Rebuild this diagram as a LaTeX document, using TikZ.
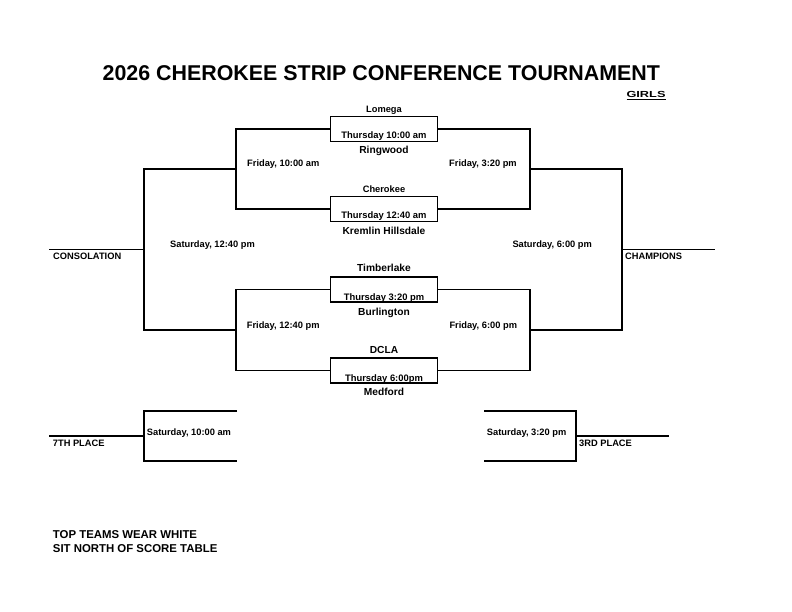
\documentclass[tikz,border=0pt]{standalone}
\usepackage{fontspec}
\setmainfont{Liberation Sans}
\usetikzlibrary{positioning}

\tikzset{
	bline/.style={line width=1.1pt},
	gamebox/.style={draw, line width=1.1pt, minimum width=107.5pt, minimum height=25pt, inner sep=0pt},
	team/.style={font=\bfseries\fontsize{10.2}{12}\selectfont, inner sep=0pt, anchor=base},
	smallteam/.style={team, font=\bfseries\fontsize{9.3}{11}\selectfont},
	slot/.style={font=\bfseries\fontsize{9.4}{11}\selectfont, inner sep=0pt, anchor=base},
	lbl/.style={font=\bfseries\fontsize{9.3}{11}\selectfont, inner sep=0pt, anchor=base west},
	note/.style={font=\bfseries\fontsize{11.4}{13}\selectfont, inner sep=0pt, anchor=base west},
}

\begin{document}
\begin{tikzpicture}[x=1pt, y=-1pt]
	\useasboundingbox (0,0) rectangle (792,612);
	
	% 标题
	\node[font=\bfseries\fontsize{21.4}{24}\selectfont, inner sep=0pt, anchor=base west] (title) at (102.5,81) {2026 CHEROKEE STRIP CONFERENCE TOURNAMENT};
	\node[font=\bfseries\fontsize{8.8}{10}\selectfont, inner sep=0pt, anchor=base east] (girls) at (665.7,97.3) {\underline{\scalebox{1.45}[1]{GIRLS}}};
	
	% 第一轮 (Thursday)
	\node[gamebox] (g1) at (384,129) {};
	\node[gamebox] (g2) at (384,209) {};
	\node[gamebox] (g3) at (384,289.5) {};
	\node[gamebox] (g4) at (384,370.5) {};
	
	\node[smallteam] (lomega) at ([yshift=3pt]g1.north) {Lomega};
	\node[slot] (s1) at ([yshift=3.5pt]g1.south) {Thursday 10:00 am};
	\node[team] (ringwood) at ([yshift=-11.5pt]g1.south) {Ringwood};
	
	\node[smallteam] (cherokee) at ([yshift=3pt]g2.north) {Cherokee};
	\node[slot] (s2) at ([yshift=3.5pt]g2.south) {Thursday 12:40 am};
	\node[team] (kremlin) at ([yshift=-12.5pt]g2.south) {Kremlin Hillsdale};
	
	\node[team] (timberlake) at ([yshift=4.5pt]g3.north) {Timberlake};
	\node[slot] (s3) at ([yshift=2pt]g3.south) {Thursday 3:20 pm};
	\node[team] (burlington) at ([yshift=-13pt]g3.south) {Burlington};
	
	\node[team] (dcla) at ([yshift=4pt]g4.north) {DCLA};
	\node[slot] (s4) at ([yshift=2.3pt]g4.south) {Thursday 6:00pm};
	\node[team] (medford) at ([yshift=-12pt]g4.south) {Medford};
	
	% 第二轮 (Friday)
	\coordinate (f1w) at (236,169);
	\coordinate (f1e) at (530,169);
	\coordinate (f2w) at (236,330);
	\coordinate (f2e) at (530,330);
	\draw[bline] (g1.west) -| (f1w) |- (g2.west);
	\draw[bline] (g1.east) -| (f1e) |- (g2.east);
	\draw[bline] (g3.west) -| (f2w) |- (g4.west);
	\draw[bline] (g3.east) -| (f2e) |- (g4.east);
	
	\node[lbl] (fri1) at (247,166.7) {Friday, 10:00 am};
	\node[lbl] (fri2) at (449,166.7) {Friday, 3:20 pm};
	\node[lbl] (fri3) at (246.7,328.3) {Friday, 12:40 pm};
	\node[lbl] (fri4) at (449.3,328.3) {Friday, 6:00 pm};
	
	% 决赛与安慰赛 (Saturday)
	\coordinate (cons) at (144,249.5);
	\coordinate (champ) at (622,249.5);
	\coordinate (consend) at (49,249.5);
	\coordinate (champend) at (715,249.5);
	\draw[bline] (f1w) -| (cons) |- (f2w);
	\draw[bline] (f1e) -| (champ) |- (f2e);
	\draw[bline] (cons) -- (consend);
	\draw[bline] (champ) -- (champend);
	
	\node[lbl] (sat1) at (170,247.3) {Saturday, 12:40 pm};
	\node[lbl] (sat2) at (512.3,247.3) {Saturday, 6:00 pm};
	\node[lbl] (conslbl) at (53,260) {CONSOLATION};
	\node[lbl] (champlbl) at (625,260) {CHAMPIONS};
	
	% 第七名
	\coordinate (sev) at (144,436);
	\coordinate (sevtop) at (237,411);
	\coordinate (sevbot) at (237,461);
	\coordinate (sevend) at (49,436);
	\draw[bline] (sevtop) -| (sev) |- (sevbot);
	\draw[bline] (sev) -- (sevend);
	\node[lbl] (sat3) at (146.7,435.7) {Saturday, 10:00 am};
	\node[lbl] (sevlbl) at (52.7,446.7) {7TH PLACE};
	
	% 第三名
	\coordinate (thd) at (576,436);
	\coordinate (thdtop) at (484,411);
	\coordinate (thdbot) at (484,461);
	\coordinate (thdend) at (669,436);
	\draw[bline] (thdtop) -| (thd) |- (thdbot);
	\draw[bline] (thd) -- (thdend);
	\node[lbl] (sat4) at (486.7,435.7) {Saturday, 3:20 pm};
	\node[lbl] (thdlbl) at (579,446.7) {3RD PLACE};
	
	% 说明
	\node[note] (note1) at (52.7,538.3) {TOP TEAMS WEAR WHITE};
	\node[note] (note2) at (52.7,552.3) {SIT NORTH OF SCORE TABLE};
\end{tikzpicture}
\end{document}
